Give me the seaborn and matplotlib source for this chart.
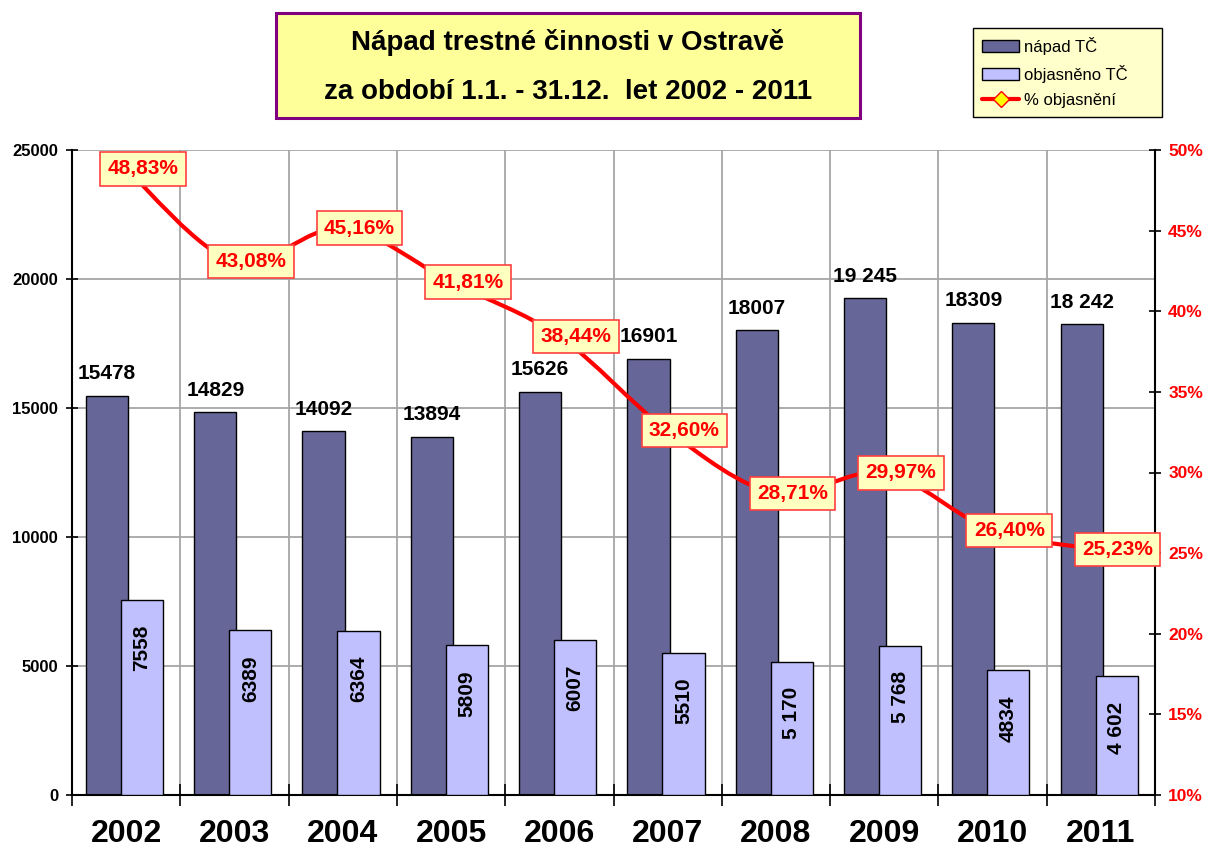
import numpy as np
import pandas as pd
import matplotlib
matplotlib.use("Agg")
import matplotlib.pyplot as plt
import seaborn as sns
from matplotlib.patches import Rectangle, Patch, PathPatch
from matplotlib.lines import Line2D
from matplotlib.path import Path

# Data
years = [2002, 2003, 2004, 2005, 2006, 2007, 2008, 2009, 2010, 2011]
napad = [15478, 14829, 14092, 13894, 15626, 16901, 18007, 19245, 18309, 18242]
objasneno = [7558, 6389, 6364, 5809, 6007, 5510, 5170, 5768, 4834, 4602]
pct = [48.83, 43.08, 45.16, 41.81, 38.44, 32.60, 28.71, 29.97, 26.40, 25.23]
napad_labels = ["15478", "14829", "14092", "13894", "15626", "16901", "18007",
                "19 245", "18309", "18 242"]
objasneno_labels = ["7558", "6389", "6364", "5809", "6007", "5510", "5 170",
                    "5 768", "4834", "4 602"]

sns.set_theme(style="white")
plt.rcParams['font.family'] = ['Liberation Sans', 'DejaVu Sans']
plt.rcParams['text.color'] = 'black'
plt.rcParams['xtick.color'] = 'black'
plt.rcParams['ytick.color'] = 'black'

dark = "#666699"
light = "#C0C0FF"
red = "#FF0000"

fig = plt.figure(figsize=(12.06, 8.57), dpi=100)
W, H = 1206, 857
ax = fig.add_axes([72 / W, 1 - 795 / H, (1155 - 72) / W, (795 - 150) / H])

df = pd.DataFrame({"rok": years, "napad": napad, "objasneno": objasneno})
df["x_dark"] = df["rok"] - 0.177
df["x_light"] = df["rok"] + 0.146

sns.barplot(data=df, x="x_dark", y="napad", native_scale=True, width=0.39,
            color=dark, saturation=1, edgecolor="black", linewidth=1,
            ax=ax, zorder=2)
sns.barplot(data=df, x="x_light", y="objasneno", native_scale=True, width=0.39,
            color=light, saturation=1, edgecolor="black", linewidth=1,
            ax=ax, zorder=3)

ax.set_xlim(years[0] - 0.5, years[-1] + 0.5)
ax.set_ylim(0, 25000)
ax.set_yticks(range(0, 25001, 5000))
ax.set_xticks(years)
ax.set_xticklabels([str(y) for y in years], fontsize=23, fontweight="bold",
                   color="black")
ax.set_xticks(np.arange(years[0] - 0.5, years[-1] + 0.6, 1), minor=True)
ax.tick_params(axis="x", which="major", length=0, pad=17)
ax.tick_params(axis="x", which="minor", direction="inout", length=16,
               width=1.2, color="black", bottom=True)
ax.tick_params(axis="y", direction="inout", length=8, width=1.2,
               color="black", left=True, pad=6, labelcolor="black")
for lab in ax.get_yticklabels():
    lab.set_fontsize(12)
    lab.set_fontweight("bold")
ax.set_xlabel("")
ax.set_ylabel("")
ax.grid(False)
ax.grid(axis="y", which="major", color="#A6A6A6", linewidth=1.3, zorder=0)
ax.grid(axis="x", which="minor", color="#A6A6A6", linewidth=1.3, zorder=0)
ax.set_axisbelow(True)
for side in ["top", "right"]:
    ax.spines[side].set_visible(False)
for side in ["left", "bottom"]:
    ax.spines[side].set_color("black")
    ax.spines[side].set_linewidth(1.5)

# bar value labels
for yr, v, t in zip(years, napad, napad_labels):
    ax.annotate(t, (yr - 0.177, v), xytext=(0, 9), textcoords="offset points",
                ha="center", va="bottom", fontsize=15, fontweight="bold",
                color="black")
for yr, v, t in zip(years, objasneno, objasneno_labels):
    ax.annotate(t, (yr + 0.146, v), xytext=(0, -18), textcoords="offset points",
                ha="center", va="top", rotation=90, fontsize=15,
                fontweight="bold", color="black", zorder=5)

# percentage line on the right axis
ax2 = ax.twinx()
ax2.set_ylim(10, 50)
ax2.set_yticks(range(10, 51, 5))
ax2.set_yticklabels([f"{p}%" for p in range(10, 51, 5)])
ax2.tick_params(axis="y", direction="inout", length=9, width=1.2,
                color="black", right=True, labelcolor=red, pad=5)
for lab in ax2.get_yticklabels():
    lab.set_fontsize(12.5)
    lab.set_fontweight("bold")
ax2.grid(False)
for side in ["top", "left", "bottom"]:
    ax2.spines[side].set_visible(False)
ax2.spines["right"].set_color("black")
ax2.spines["right"].set_linewidth(1.5)

# smoothed line (Catmull-Rom style bezier through the data points)
pts = np.column_stack([years, pct]).astype(float)
verts = [tuple(pts[0])]
codes = [Path.MOVETO]
n = len(pts)
for i in range(n - 1):
    p0 = pts[max(i - 1, 0)]
    p1 = pts[i]
    p2 = pts[i + 1]
    p3 = pts[min(i + 2, n - 1)]
    c1 = p1 + (p2 - p0) / 6
    c2 = p2 - (p3 - p1) / 6
    verts += [tuple(c1), tuple(c2), tuple(p2)]
    codes += [Path.CURVE4] * 3
ax2.add_patch(PathPatch(Path(verts, codes), facecolor="none", edgecolor=red,
                        lw=3, zorder=3, capstyle="round", joinstyle="round"))
sns.scatterplot(x=years, y=pct, marker="D", s=40, color="#FFFF00",
                edgecolor=red, linewidth=1, ax=ax2, zorder=4)

for yr, p in zip(years, pct):
    ax2.annotate(f"{p:.2f}%".replace(".", ","), (yr, p), xytext=(12, 0),
                 textcoords="offset points", ha="center", va="center",
                 fontsize=15, fontweight="bold", color=red, zorder=6,
                 bbox=dict(boxstyle="square,pad=0.35", facecolor="#FFFFC0",
                           edgecolor="#FF4040", linewidth=1.2))

# title box
fig.patches.append(Rectangle((276 / W, 1 - 118 / H), 584 / W, 105 / H,
                             transform=fig.transFigure, facecolor="#FFFF99",
                             edgecolor="#800080", linewidth=2.2))
fig.text(568 / W, 1 - 50 / H, "Nápad trestné činnosti v Ostravě",
         ha="center", va="baseline", fontsize=20, fontweight="bold",
         color="black")
fig.text(568 / W, 1 - 99 / H, "za období 1.1. - 31.12.  let 2002 - 2011",
         ha="center", va="baseline", fontsize=20, fontweight="bold",
         color="black")

# legend
handles = [
    Patch(facecolor=dark, edgecolor="black", label="nápad TČ"),
    Patch(facecolor=light, edgecolor="black", label="objasněno TČ"),
    Line2D([0], [0], color=red, lw=3, marker="D", markersize=8,
           markerfacecolor="#FFFF00", markeredgecolor=red, label="% objasnění"),
]
leg = fig.legend(handles=handles, loc="upper left",
                 bbox_to_anchor=(973 / W, 1 - 122 / H, 189 / W, 94 / H),
                 mode="expand", fontsize=12,
                 frameon=True, fancybox=False, handlelength=2.2,
                 handleheight=0.75, labelspacing=0.6, borderpad=0.55,
                 handletextpad=0.3, borderaxespad=0)
leg.get_frame().set_facecolor("#FFFFCC")
leg.get_frame().set_edgecolor("black")
leg.get_frame().set_linewidth(1)
leg.get_frame().set_alpha(1)

fig.savefig("out.png", dpi=100, facecolor="white")
